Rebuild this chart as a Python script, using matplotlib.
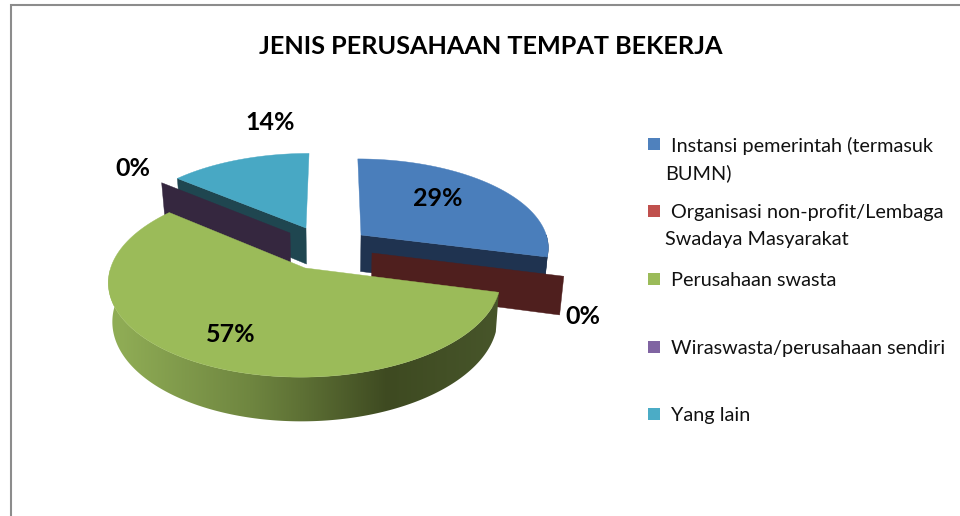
import matplotlib
matplotlib.use('Agg')
import matplotlib.pyplot as plt
from matplotlib.patches import Polygon, Rectangle
import numpy as np

plt.rcParams['font.family'] = ['Lato', 'DejaVu Sans']

# data
title = 'JENIS PERUSAHAAN TEMPAT BEKERJA'
values = [29, 0, 57, 0, 14]
legend_lines = [
    ['Instansi pemerintah (termasuk', 'BUMN)'],
    ['Organisasi non-profit/Lembaga', 'Swadaya Masyarakat'],
    ['Perusahaan swasta'],
    ['Wiraswasta/perusahaan sendiri'],
    ['Yang lain'],
]

# colours
top_colors = ['#4a7ebb', '#be4b48', '#9bbb59', '#7d60a0', '#48a8c4']
wall_colors = ['#1f3350', '#4f1f1e', '#3e4a21', '#35273f', '#1f4650']
legend_colors = ['#4f81bd', '#c0504d', '#9bbb59', '#8064a2', '#4bacc6']

# where each slice's tip ends up after the explosion, in pixels
tips = [(361, 235), (372, 253), (305, 268), (290, 233), (306, 228)]
label_pos = [(438, 198), (583, 317), (231, 334), (133, 168), (270, 122)]
legend_y = [144, 211, 279, 347, 414]

# 3D look of the pie
x0, y0 = 333, 245
persp = 0.13
squash = 88.4
radius = 188
depth = 37
shrink = 0.018  # bottom of the pie is a little narrower than the top


def to_plane(px, py):
    w = y0 - py
    v = w / (squash - persp * w)
    u = (px - x0) * (1 + persp * v)
    return u, v


def project(u, v, z=0):
    s = 1 + persp * v
    return x0 + (u / s) * (1 - shrink * z / depth), y0 - squash * v / s + z / s


def arc_points(tip, a0, a1, z=0, n=120):
    u0, v0 = to_plane(*tip)
    ang = np.deg2rad(np.linspace(a0, a1, n))
    x, y = project(u0 + radius * np.sin(ang), v0 + np.cos(ang), z)
    return list(zip(x, y))


fig = plt.figure(figsize=(9.6, 5.16), dpi=100)
ax = fig.add_axes([0, 0, 1, 1])

# outer frame, cut off by the screenshot on the right and bottom
ax.plot([11, 11, 960], [516, 5, 5], color='#8c8c8c', lw=1.5, solid_joinstyle='miter')

# slice angles, clockwise from 12 o'clock
edges = np.concatenate([[0], np.cumsum(values)]) / sum(values) * 360


def radial_wall(i, angle, z_order):
    tip = tips[i]
    end = arc_points(tip, angle, angle, n=1)[0]
    end_low = arc_points(tip, angle, angle, depth, n=1)[0]
    u0, v0 = to_plane(*tip)
    tip_low = project(u0, v0, depth)
    ax.add_patch(Polygon([tip, end, end_low, tip_low], closed=True, fc=wall_colors[i],
                         ec=wall_colors[i], lw=0.3, zorder=z_order))


def top_face(i, z_order):
    pts = [tips[i]] + arc_points(tips[i], edges[i], edges[i + 1])
    ax.add_patch(Polygon(pts, closed=True, fc=top_colors[i], ec=top_colors[i], lw=0.3, zorder=z_order))


# teal slice, at the back
radial_wall(4, edges[4], 2)
top_face(4, 3)

# purple slice is empty, only its wall shows
radial_wall(3, edges[3], 4)

# blue slice
radial_wall(0, edges[1], 5)
top = arc_points(tips[0], 90, edges[1])
low = arc_points(tips[0], 90, edges[1], depth)
ax.add_patch(Polygon(top + low[::-1], closed=True, fc=wall_colors[0], ec=wall_colors[0], lw=0.3, zorder=5))
top_face(0, 6)

# red slice is empty too
radial_wall(1, edges[1], 7)

# green slice, rim shaded from left to right
rim_x = [110, 120, 250, 300, 387, 495]
rim_r = [0x90, 0x8f, 0x6f, 0x5e, 0x3e, 0x47]
rim_g = [0xad, 0xac, 0x86, 0x71, 0x4a, 0x55]
rim_b = [0x56, 0x55, 0x40, 0x35, 0x21, 0x2a]
top = arc_points(tips[2], edges[2], 285, n=240)
low = arc_points(tips[2], edges[2], 285, depth, n=240)
rim_shape = Polygon(top + low[::-1], closed=True, fc='none', ec='none', transform=ax.transData)
ax.add_patch(rim_shape)
grad_x = np.arange(100, 510)
grad = np.stack([np.interp(grad_x, rim_x, rim_r), np.interp(grad_x, rim_x, rim_g),
                 np.interp(grad_x, rim_x, rim_b)], axis=-1)[np.newaxis, :, :] / 255
rim_img = ax.imshow(grad, extent=(100, 510, 430, 270), aspect='auto', interpolation='bilinear', zorder=8)
rim_img.set_clip_path(rim_shape)
top_face(2, 9)

# title and data labels
ax.text(491, 46.5, title, ha='center', va='center', fontsize=18.2, fontweight='bold', color='black', zorder=12)
for i, v in enumerate(values):
    ax.text(label_pos[i][0], label_pos[i][1], f'{v}%', ha='center', va='center',
            fontsize=18, fontweight='bold', color='black', zorder=12)

# legend
for i, lines in enumerate(legend_lines):
    y = legend_y[i]
    ax.add_patch(Rectangle((648, y - 6), 12, 12, fc=legend_colors[i], ec='none', zorder=12))
    ax.text(671, y + 1.5, lines[0], ha='left', va='center', fontsize=14.3, color='#111111', zorder=12)
    if len(lines) > 1:
        ax.text(665, y + 29, lines[1], ha='left', va='center', fontsize=14.3, color='#111111', zorder=12)

ax.set_xlim(0, 960)
ax.set_ylim(516, 0)
ax.axis('off')

fig.savefig('out.png', dpi=100)
